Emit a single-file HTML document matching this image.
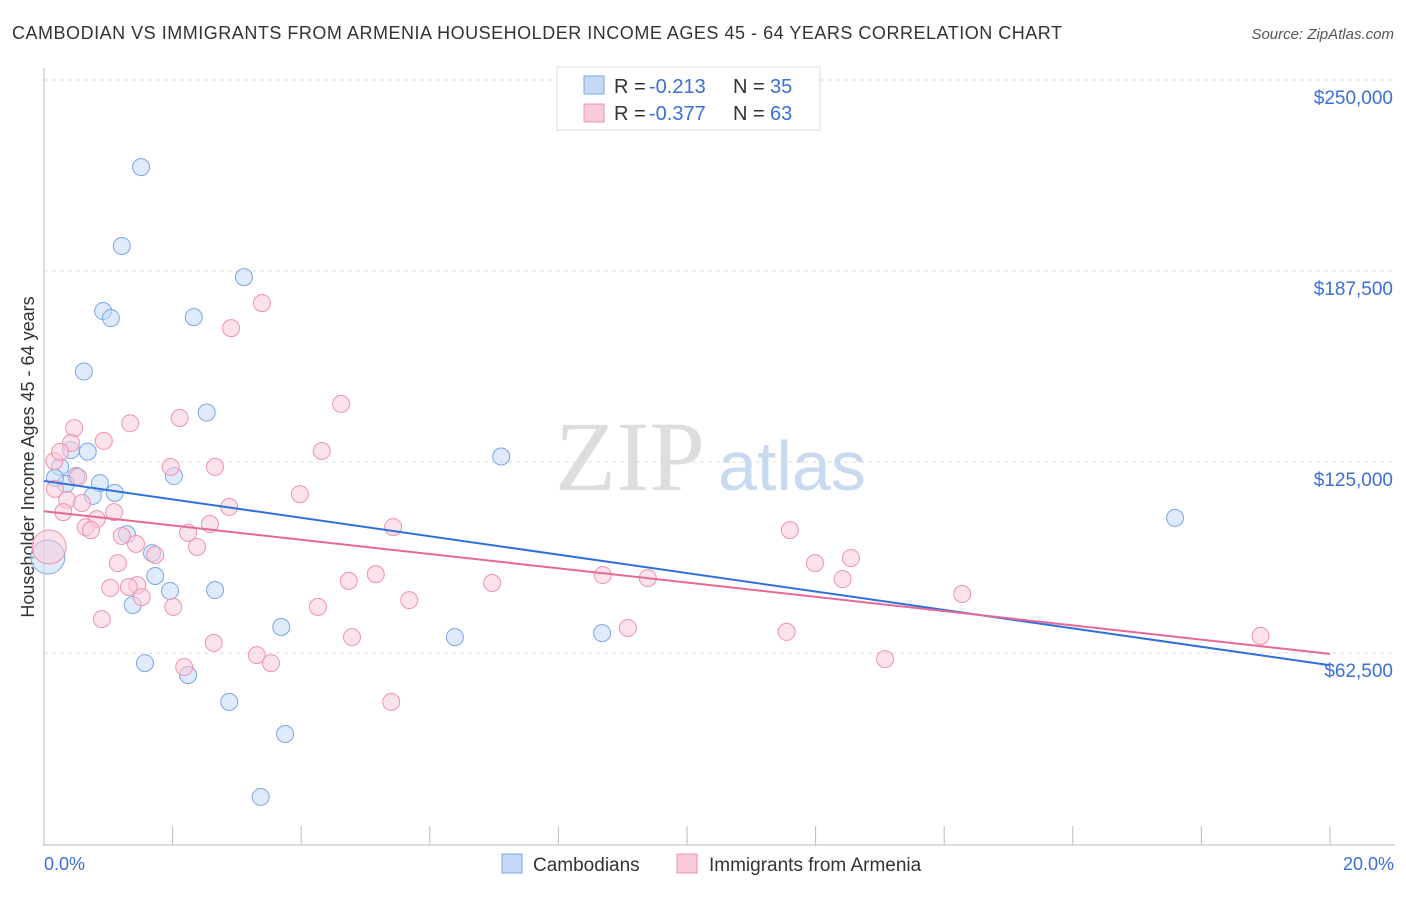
<!DOCTYPE html>
<html><head><meta charset="utf-8"><style>
body{margin:0;background:#fff;font-family:"Liberation Sans",sans-serif;}
</style></head><body>
<svg width="1406" height="892" xmlns="http://www.w3.org/2000/svg">
<text x="12" y="39" font-size="18" fill="#333" textLength="1050" lengthAdjust="spacing">CAMBODIAN VS IMMIGRANTS FROM ARMENIA HOUSEHOLDER INCOME AGES 45 - 64 YEARS CORRELATION CHART</text>
<text x="1394" y="39" font-size="15" fill="#555" font-style="italic" text-anchor="end">Source: ZipAtlas.com</text>
<g id="grid"></g>
<g id="axes"></g>
<text x="555" y="490" font-size="100" fill="#ddd" font-family="Liberation Serif">ZIP</text>
<text x="718" y="490" font-size="70" fill="#c9daf0">atlas</text>
<text transform="translate(34,457) rotate(-90)" font-size="18" fill="#333" text-anchor="middle">Householder Income Ages 45 - 64 years</text>
<g id="pts"></g>
<g id="lines"></g>
<g>
<rect x="557" y="67" width="263" height="63" fill="#fff" stroke="#ddd"/>
<rect x="584" y="76" width="20" height="18" fill="#c5d9f6" stroke="#7aa6e6"/>
<rect x="584" y="104" width="20" height="18" fill="#f9cad8" stroke="#ee92b0"/>
<text x="614" y="93" font-size="20" fill="#333">R =</text>
<text x="649" y="93" font-size="20" fill="#3a6fd8">-0.213</text>
<text x="733" y="93" font-size="20" fill="#333">N =</text>
<text x="770" y="93" font-size="20" fill="#3a6fd8">35</text>
<text x="614" y="120" font-size="20" fill="#333">R =</text>
<text x="649" y="120" font-size="20" fill="#3a6fd8">-0.377</text>
<text x="733" y="120" font-size="20" fill="#333">N =</text>
<text x="770" y="120" font-size="20" fill="#3a6fd8">63</text>
</g>
<g>
<rect x="502" y="854" width="20" height="19" fill="#c5d9f6" stroke="#7aa6e6"/>
<text x="533" y="871" font-size="19" fill="#333">Cambodians</text>
<rect x="677" y="854" width="20" height="19" fill="#f9cad8" stroke="#ee92b0"/>
<text x="709" y="871" font-size="19" fill="#333">Immigrants from Armenia</text>
</g>
<text x="44" y="870" font-size="18" fill="#3a6fd8">0.0%</text>
<text x="1394" y="870" font-size="18" fill="#3a6fd8" text-anchor="end">20.0%</text>
</svg>
<script>
const yTicks=[250000,187500,125000,62500];
const yTickLabels=["$250,000","$187,500","$125,000","$62,500"];
const xTicks=[0,2,4,6,8,10,12,14,16,18,20];
const blueX=[1.51,1.21,3.11,0.92,1.04,2.33,0.62,2.53,7.11,0.68,0.42,0.25,0.50,0.34,0.87,1.10,0.76,2.02,1.29,1.68,1.73,1.96,2.66,1.38,3.69,6.39,8.68,1.57,2.24,2.88,3.75,3.37,17.59,0.06,0.17];
const blueY=[221.5,195.7,185.5,174.4,172.1,172.4,154.6,141.2,126.8,128.4,128.9,123.4,120.4,117.8,118.1,114.9,113.9,120.4,101.4,95.2,87.7,82.8,83.1,78.2,71.0,67.7,69.0,59.2,55.3,46.5,36.0,15.4,106.7,93.9,119.8];
const pinkX=[3.39,2.91,4.62,1.34,2.11,0.47,0.42,0.93,4.32,0.16,0.25,1.97,2.66,0.53,0.17,3.98,0.36,2.88,0.30,0.59,0.82,1.09,5.43,2.58,0.65,0.73,2.24,1.21,1.43,2.38,1.73,0.08,1.15,11.60,12.55,11.99,12.42,8.69,9.39,5.16,4.74,6.97,1.03,1.45,1.32,1.52,5.68,4.26,2.01,14.28,0.90,9.08,11.55,4.79,2.64,3.31,3.53,2.18,13.08,5.40,18.92];
const pinkY=[177.0,168.8,144.0,137.7,139.4,136.1,131.2,131.9,128.6,125.3,128.3,123.4,123.4,120.1,116.2,114.5,112.6,110.3,108.6,111.6,106.3,108.6,103.7,104.7,103.7,102.7,101.8,100.8,98.2,97.2,94.6,97.2,91.9,102.7,93.6,91.9,86.7,88.0,87.0,88.3,86.1,85.4,83.8,84.7,84.1,80.8,79.8,77.6,77.6,81.8,73.6,70.7,69.4,67.7,65.8,61.8,59.2,57.9,60.5,46.5,68.1];
const trendBlue=[118.8,58.5];
const trendPink=[108.9,62.2];
const NS="http://www.w3.org/2000/svg";
const xs=p=>44+p/20*1286;
const ys=k=>653-(k-62.5)/62.5*191;
function mk(t,a,parent){const e=document.createElementNS(NS,t);for(const k in a)e.setAttribute(k,a[k]);document.getElementById(parent).appendChild(e);return e;}
yTicks.forEach((v,i)=>{const y=ys(v/1000);
const l=mk('line',{x1:44,x2:1395,y1:y,y2:y,stroke:'#ddd','stroke-dasharray':'4,4'},'grid');


const t=mk('text',{x:1393,y:y+24,'font-size':19,fill:'#3a6fd8','text-anchor':'end'},'grid');t.textContent=yTickLabels[i];

});
const ax=mk('line',{x1:44,x2:44,y1:68,y2:846,stroke:'#bbb'},'axes');


const bx=mk('line',{x1:44,x2:1395,y1:845,y2:845,stroke:'#bbb'},'axes');


xTicks.forEach(p=>{const t=mk('line',{x1:xs(p),x2:xs(p),y1:826,y2:845,stroke:'#bbb'},'axes');

});
function pts(X,Y,fill,stroke,name){X.forEach((p,i)=>{const big=p<0.1;
const c=mk('circle',{cx:xs(p),cy:ys(Y[i]),r:big?17:8.5,fill:fill,'fill-opacity':0.55,stroke:stroke,'stroke-width':1},'pts');

});}
pts(blueX,blueY,'#c5d9f6','#7aa6e6','point-cambodian');
pts(pinkX,pinkY,'#f9cad8','#ee92b0','point-armenia');
const lb=mk('line',{x1:xs(0),y1:ys(trendBlue[0]),x2:xs(20),y2:ys(trendBlue[1]),stroke:'#2f6fdc','stroke-width':2},'lines');


const lp=mk('line',{x1:xs(0),y1:ys(trendPink[0]),x2:xs(20),y2:ys(trendPink[1]),stroke:'#e8689a','stroke-width':2},'lines');


</script>
</body></html>
